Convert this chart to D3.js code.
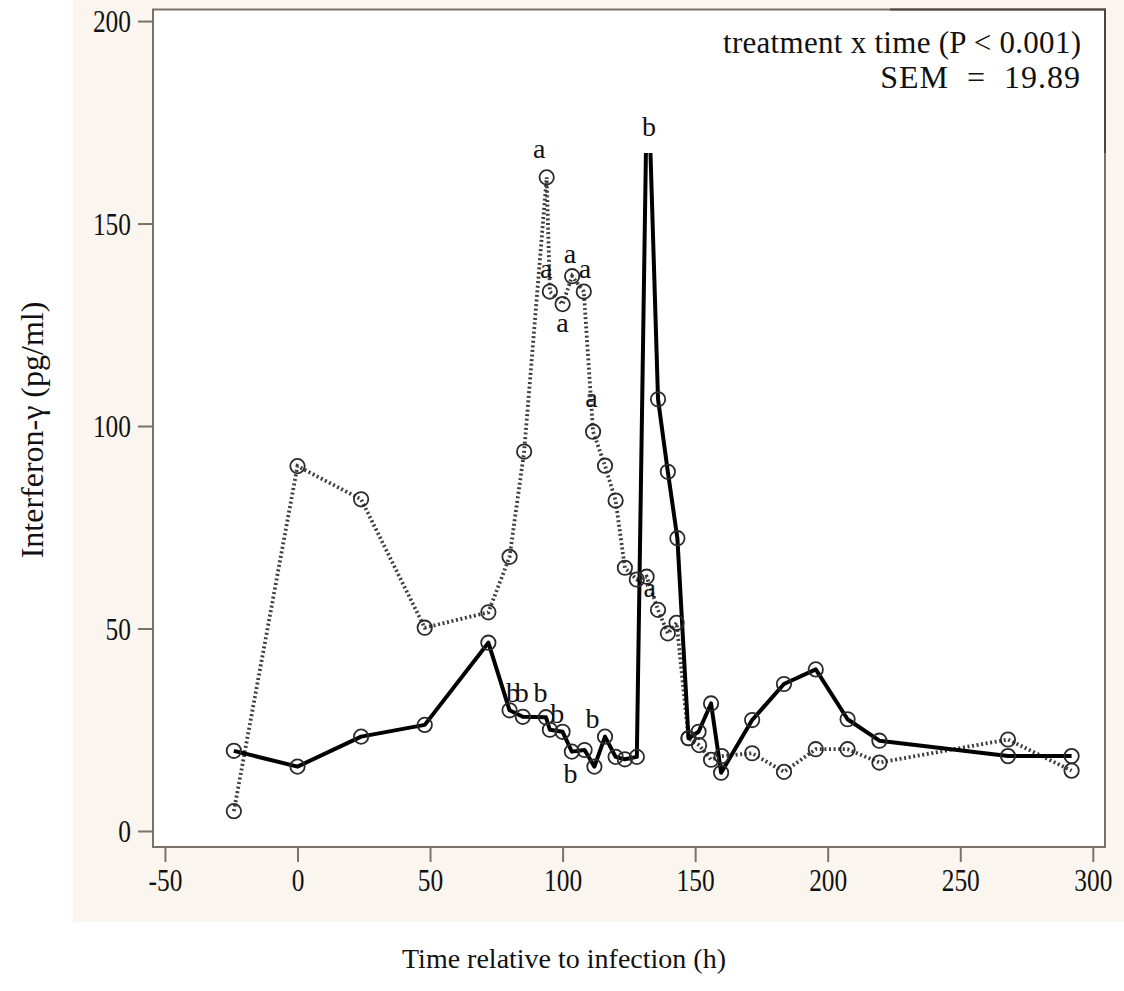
<!DOCTYPE html>
<html><head><meta charset="utf-8">
<script src="https://cdn.jsdelivr.net/npm/d3@7"></script>
<style>
body{margin:0;background:#fff}
svg{display:block}
text{font-family:"Liberation Serif","Times New Roman",serif;fill:#111}
</style>
</head><body><svg id="c" width="1124" height="991"></svg>
<script>
// ---- data ----
const timesSolid  = [-24,0,24,48,72,80,85,93.7,95.2,100,103.5,108.3,112,116,120,123.5,128,132,136,139.7,143.3,147.5,151.3,156,159.8,171.5,183.5,195.5,207.5,219.5,268,292];
const valuesSolid = [19.8,15.9,23.3,26.2,46.5,29.8,28.2,28.1,25.0,24.5,19.6,20.0,15.9,23.3,18.3,17.7,18.3,192,106.6,88.7,72.3,22.9,24.5,31.5,14.4,27.4,36.3,39.9,27.6,22.3,18.5,18.5];
const timesDotted  = [-24,0,24,48,72,80,85.5,94,95.2,100,103.6,108,111.5,116,120,123.5,128,131.7,136,139.7,143,147.5,151.5,156,160,171.5,183.5,195.5,207.5,219.5,268,292];
const valuesDotted = [4.9,90.1,81.9,50.2,54.0,67.7,93.7,161.4,133.2,130.1,137.0,133.2,98.6,90.2,81.6,65.0,62.1,62.8,54.6,48.8,51.4,22.9,21.2,17.6,18.5,19.2,14.6,20.2,20.2,16.9,22.6,14.9];
const xTicks = [-50,0,50,100,150,200,250,300];
const yTicks = [0,50,100,150,200];
const letterTimes  = [91.2,93.8,102.8,108.4,100,110.9,132.9, 81.3,84.6,91.7,98,111.3,103,132.6];
const letterValues = [166.3,136.5,140.2,136.5,123.3,104.6,57.7, 31.9,31.9,31.9,26.7,25.4,11.9,171.6];
const letterTexts  = ["a","a","a","a","a","a","a", "b","b","b","b","b","b","b"];
const noteLines = ["treatment x time (P < 0.001)","SEM = 19.89"];
const xTitle = "Time relative to infection (h)";
const yTitle = "Interferon-\u03b3 (pg/ml)";

// ---- layout ----
const L = 153, R = 1105, T = 9.5, B = 847;
const svg = d3.select("#c");
const x = d3.scaleLinear().domain([-54.5, 304.6]).range([L, R]);
const y = d3.scaleLinear().domain([-3.95, 202.85]).range([B, T]);
const frameCol = "#7a7266", darkCol = "#4e463c";

// cream panel
svg.append("rect").attr("x",73).attr("y",0).attr("width",1124-73).attr("height",922).attr("fill","#faf6ef");
// plot area
svg.append("rect").attr("x",L).attr("y",T).attr("width",R-L).attr("height",B-T).attr("fill","#fff");

const defs = svg.append("defs");
defs.append("clipPath").attr("id","clip").append("rect").attr("x",L).attr("y",T).attr("width",R-L).attr("height",B-T);
const plot = svg.append("g").attr("clip-path","url(#clip)");

const dotted = d3.zip(timesDotted, valuesDotted);
const solid = d3.zip(timesSolid, valuesSolid);
const line = d3.line().x(d=>x(d[0])).y(d=>y(d[1]));

plot.append("path").datum(dotted).attr("d",line).attr("fill","none")
  .attr("stroke","#3c3c3c").attr("stroke-width",3.8).attr("stroke-dasharray","2,2.6");
plot.append("path").datum(solid).attr("d",line).attr("fill","none")
  .attr("stroke","#000").attr("stroke-width",4).attr("stroke-linejoin","round");

plot.selectAll("circle.d").data(dotted).join("circle").attr("class","d")
  .attr("cx",d=>x(d[0])).attr("cy",d=>y(d[1])).attr("r",7.2)
  .attr("fill","none").attr("stroke","#2a2a2a").attr("stroke-width",1.8);
plot.selectAll("circle.s").data(solid).join("circle").attr("class","s")
  .attr("cx",d=>x(d[0])).attr("cy",d=>y(d[1])).attr("r",7.2)
  .attr("fill","none").attr("stroke","#2a2a2a").attr("stroke-width",1.8);

// annotation box (white, covers the top of the plot)
const boxL = 615, boxB = 153;
svg.append("rect").attr("x",boxL).attr("y",T).attr("width",R-boxL).attr("height",boxB-T).attr("fill","#fff");

// frame
svg.append("rect").attr("x",L).attr("y",T).attr("width",R-L).attr("height",B-T)
  .attr("fill","none").attr("stroke",frameCol).attr("stroke-width",2);
svg.append("path").attr("d",`M890,${T}H${R}V${boxB}`).attr("fill","none").attr("stroke",darkCol).attr("stroke-width",2);

// axes
const fs = 31, sx = 0.82;
const ya = svg.append("g").attr("transform",`translate(${L-1},0)`)
  .call(d3.axisLeft(y).tickValues(yTicks).tickSize(14).tickFormat(d=>String(d)));
ya.select(".domain").remove();
ya.selectAll("line").attr("stroke",frameCol).attr("stroke-width",2);
ya.selectAll("text").attr("font-size",fs).attr("x",-21/sx).attr("dy","0.34em")
  .attr("transform",`scale(${sx},1)`).style("fill","#111");

const xa = svg.append("g").attr("transform",`translate(0,${B+1})`)
  .call(d3.axisBottom(x).tickValues(xTicks).tickSize(14).tickFormat(d=>String(d)));
xa.select(".domain").remove();
xa.selectAll("line").attr("stroke",frameCol).attr("stroke-width",2);
xa.selectAll("text").attr("font-size",fs).attr("y",43).attr("dy",0)
  .attr("transform",`scale(${sx},1)`).style("fill","#111");

// letters
svg.append("g").selectAll("text").data(letterTexts).join("text")
  .attr("x",(d,i)=>x(letterTimes[i])).attr("y",(d,i)=>y(letterValues[i]))
  .attr("text-anchor","middle").attr("font-size",28).text(d=>d);

// note
const note = svg.append("g").selectAll("text").data(noteLines).join("text")
  .attr("x",1081).attr("y",(d,i)=>53+i*35).attr("text-anchor","end")
  .attr("font-size",(d,i)=> i===0 ? 31 : 32)
  .text(d=>d);
note.filter((d,i)=>i===0).attr("textLength",358).attr("lengthAdjust","spacing");
note.filter((d,i)=>i===1).style("word-spacing","9px").style("letter-spacing","1px");

// titles
svg.append("text").attr("x",564).attr("y",968).attr("text-anchor","middle").attr("font-size",28).text(xTitle);
svg.append("text").attr("transform","translate(43,430) rotate(-90)").attr("text-anchor","middle").attr("font-size",32).text(yTitle);
</script>
</body></html>
